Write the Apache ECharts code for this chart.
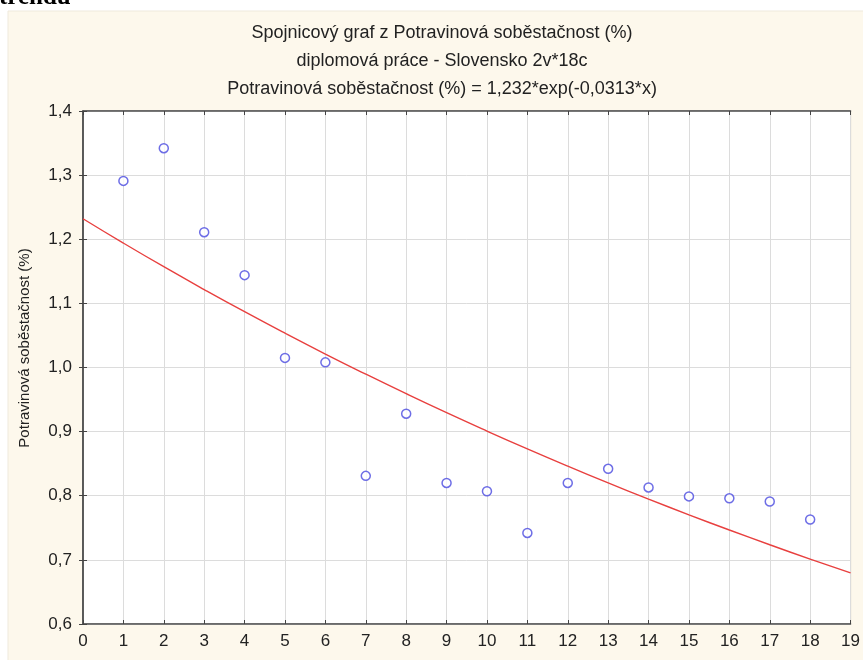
<!DOCTYPE html>
<html>
<head>
<meta charset="utf-8">
<script src="https://cdn.jsdelivr.net/npm/echarts@6/dist/echarts.min.js"></script>
<style>
  html, body { margin: 0; padding: 0; background: #ffffff; }
  #chart { width: 863px; height: 660px; }
</style>
</head>
<body>
<div id="chart"></div>
<script>
// Observed food self-sufficiency per year index
const years = [1, 2, 3, 4, 5, 6, 7, 8, 9, 10, 11, 12, 13, 14, 15, 16, 17, 18];
const selfSufficiency = [1.291, 1.342, 1.211, 1.144, 1.015, 1.008, 0.831, 0.928, 0.820, 0.807,
                         0.742, 0.820, 0.842, 0.813, 0.799, 0.796, 0.791, 0.763];

// Fitted exponential trend 1,232*exp(-0,0313*x) evaluated at x = 0..19
const trendX = [0, 1, 2, 3, 4, 5, 6, 7, 8, 9, 10, 11, 12, 13, 14, 15, 16, 17, 18, 19];
const trendY = [1.2320, 1.1940, 1.1572, 1.1216, 1.0870, 1.0535, 1.0210, 0.9896, 0.9591, 0.9295,
                0.9009, 0.8731, 0.8462, 0.8201, 0.7948, 0.7703, 0.7466, 0.7236, 0.7013, 0.6797];

const titleLines = [
  'Spojnicový graf z Potravinová soběstačnost (%)',
  'diplomová práce - Slovensko 2v*18c',
  'Potravinová soběstačnost (%) = 1,232*exp(-0,0313*x)'
];
const yAxisName = 'Potravinová soběstačnost (%)';

const fmtComma = v => v.toFixed(1).replace('.', ',');
const FONT = '"Liberation Sans", Arial, sans-serif';

const chart = echarts.init(document.getElementById('chart'), null, { renderer: 'canvas' });

const pointData = years.map((x, i) => [x, selfSufficiency[i]]);
const trendData = trendX.map((x, i) => [x, trendY[i]]);

const gridRect = { left: 83, top: 111, right: 5, bottom: 36 };

const tickStyle = { show: true, inside: true, length: 4, lineStyle: { color: '#444', width: 1 } };
const gridLine = { show: true, lineStyle: { color: '#dcdcdc', width: 1 } };

// Title block: one centred text element per line
const titleGraphics = titleLines.map((line, i) => ({
  type: 'text', silent: true,
  x: 442, y: 33 + i * 28,
  style: {
    text: line, font: '18px ' + FONT, fill: '#222',
    align: 'center', verticalAlign: 'middle'
  }
}));

chart.setOption({
  backgroundColor: '#ffffff',
  animation: false,
  graphic: [
    {
      type: 'rect', z: -10, silent: true,
      shape: { x: 8, y: 11, width: 870, height: 660 },
      style: { fill: '#fdf8ec', stroke: '#efe9dc', lineWidth: 1 }
    },
    {
      // heading text running off the top edge of the page
      type: 'text', silent: true, x: -1, y: -15,
      style: {
        text: 'trendu', font: 'bold 25px "Liberation Serif", "Times New Roman", serif',
        fill: '#000', verticalAlign: 'top'
      }
    },
    ...titleGraphics,
    {
      type: 'text', silent: true,
      x: 25, y: 348, rotation: Math.PI / 2,
      style: {
        text: yAxisName, font: '15px ' + FONT, fill: '#222',
        align: 'center', verticalAlign: 'middle'
      }
    }
  ],
  grid: Object.assign({ show: true, backgroundColor: '#ffffff', borderColor: '#555', borderWidth: 1 }, gridRect),
  xAxis: [
    {
      type: 'value', min: 0, max: 19, interval: 1, position: 'bottom',
      axisLine: { show: true, lineStyle: { color: '#555', width: 1.5 } },
      axisTick: tickStyle,
      splitLine: gridLine,
      axisLabel: { color: '#222', fontSize: 17, fontFamily: FONT, margin: 9, showMaxLabel: true }
    },
    {
      type: 'value', min: 0, max: 19, interval: 1, position: 'top',
      axisLine: { show: true, lineStyle: { color: '#555', width: 1.5 } },
      axisTick: tickStyle, splitLine: { show: false }, axisLabel: { show: false }
    }
  ],
  yAxis: [
    {
      type: 'value', min: 0.6, max: 1.4, interval: 0.1, position: 'left',
      axisLine: { show: true, lineStyle: { color: '#555', width: 1.5 } },
      axisTick: tickStyle,
      splitLine: gridLine,
      axisLabel: { color: '#222', fontSize: 17, fontFamily: FONT, margin: 11, formatter: fmtComma }
    },
    {
      type: 'value', min: 0.6, max: 1.4, interval: 0.1, position: 'right',
      axisLine: { show: true, lineStyle: { color: '#555', width: 1.5 } },
      axisTick: tickStyle, splitLine: { show: false }, axisLabel: { show: false }
    }
  ],
  series: [
    {
      type: 'line', data: trendData, smooth: true, symbol: 'none', z: 2,
      lineStyle: { color: '#e8403f', width: 1.4 }
    },
    {
      type: 'scatter', data: pointData, symbol: 'circle', symbolSize: 9, z: 3,
      itemStyle: { color: '#ffffff', borderColor: '#4a4ae0', borderWidth: 1.5 }
    }
  ]
});
</script>
</body>
</html>
